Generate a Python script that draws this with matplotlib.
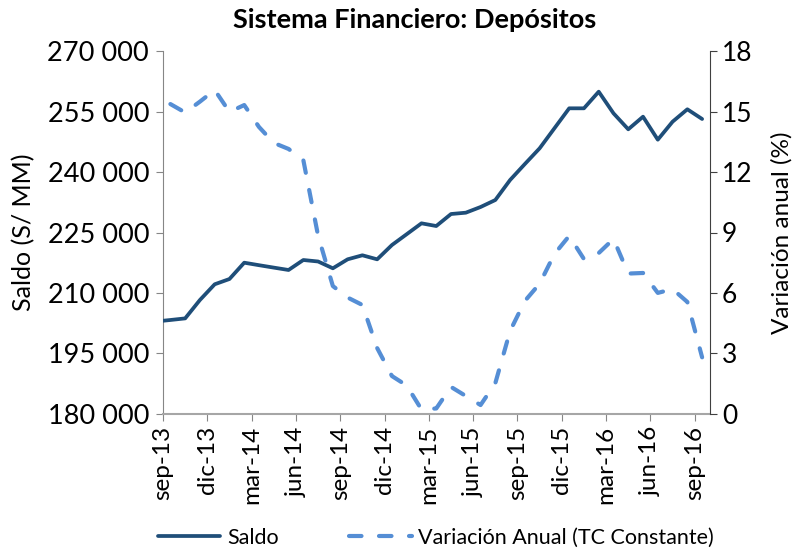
import numpy as np
import matplotlib
matplotlib.use("Agg")
import matplotlib.pyplot as plt
from matplotlib.ticker import FuncFormatter

plt.rcParams['font.family'] = ['Lato', 'DejaVu Sans']

months = ['ago-13', 'sep-13', 'oct-13', 'nov-13', 'dic-13',
          'ene-14', 'feb-14', 'mar-14', 'abr-14', 'may-14', 'jun-14',
          'jul-14', 'ago-14', 'sep-14', 'oct-14', 'nov-14', 'dic-14',
          'ene-15', 'feb-15', 'mar-15', 'abr-15', 'may-15', 'jun-15',
          'jul-15', 'ago-15', 'sep-15', 'oct-15', 'nov-15', 'dic-15',
          'ene-16', 'feb-16', 'mar-16', 'abr-16', 'may-16', 'jun-16',
          'jul-16', 'ago-16', 'sep-16']

saldo = [202900, 203270, 203670, 208240, 212140,
         213450, 217500, 216880, 216280, 215690, 218170,
         217800, 216110, 218340, 219340, 218340, 221890,
         224580, 227280, 226610, 229590, 229920, 231330,
         233070, 238040, 242010, 245910, 250880, 255840,
         255840, 259970, 254600, 250630, 253760, 248050,
         252520, 255600, 253190]

variacion = [np.nan, 15.38, 14.96, 15.5, 16.08,
             14.99, 15.33, 14.24, 13.45, 13.15, 12.6,
             8.84, 6.34, 5.77, 5.4, 3.26, 1.87,
             1.40, 0.21, 0.26, 1.33, 0.88, 0.43,
             1.52, 4.11, 5.6, 6.46, 7.93, 8.83,
             7.68, 7.98, 8.68, 6.96, 6.99, 6.0,
             6.19, 5.55, 2.8]

tick_labels = ['sep-13', 'dic-13', 'mar-14', 'jun-14', 'sep-14', 'dic-14',
               'mar-15', 'jun-15', 'sep-15', 'dic-15', 'mar-16', 'jun-16',
               'sep-16']

c_saldo = '#1F4E79'
c_var = '#558ED5'

fig = plt.figure(figsize=(7.99, 5.49), dpi=100)
ax = fig.add_axes([163/799, 1-413.7/549, (709.5-163)/799, (413.7-51.3)/549])
ax2 = ax.twinx()

# mid-month positions on a month axis
x = np.arange(len(months)) - 0.5

l1, = ax.plot(x, saldo, color=c_saldo, lw=2.7, solid_capstyle='round',
              solid_joinstyle='round', label='Saldo', zorder=3)
l2, = ax2.plot(x, variacion, color=c_var, lw=3.0, ls=(0, (3.0, 4.2)),
               dash_capstyle='round', label='Variación Anual (TC Constante)')

ax.set_xlim(0, 37)
ax.set_ylim(180000, 270000)
ax.set_yticks(np.arange(180000, 270001, 15000))
ax.yaxis.set_major_formatter(FuncFormatter(lambda v, p: f"{int(v):,}".replace(',', ' ')))
ax2.set_ylim(0, 18)
ax2.set_yticks(np.arange(0, 19, 3))

ax.set_xticks(np.arange(0, 37, 3))
ax.set_xticklabels(tick_labels, rotation=90, fontsize=17.5)
ax.tick_params(axis='y', labelsize=19.5, length=5, color='#868686', direction='out', pad=5)
ax.tick_params(axis='x', length=5, color='#868686', direction='out', pad=4)
ax2.tick_params(axis='y', labelsize=19, length=5, color='#404040', direction='out', pad=4)

ax.spines['top'].set_visible(False)
ax2.spines['top'].set_visible(False)
ax.spines['left'].set_color('#868686')
ax.spines['bottom'].set_color('#A6A6A6')
ax.spines['bottom'].set_linewidth(1.5)
ax2.spines['left'].set_visible(False)
ax2.spines['bottom'].set_visible(False)
ax2.spines['right'].set_color('#404040')
ax.spines['right'].set_visible(False)

ax.set_ylabel('Saldo (S/ MM)', fontsize=18, va='center')
ax.yaxis.set_label_coords(-(163-24)/546.5, 0.5)
ax2.set_ylabel('Variación anual (%)', fontsize=17.5, va='center', rotation=90)
ax2.yaxis.set_label_coords(1 + (782-709.5)/546.5, 0.5)

fig.text(415/799, 1-20/549, 'Sistema Financiero: Depósitos', ha='center', va='center',
         fontsize=19.5, fontweight='bold')

fig.legend([l1, l2], ['Saldo', 'Variación Anual (TC Constante)'], ncol=2,
           loc='center', bbox_to_anchor=(436/799, 1-538/549), frameon=False,
           fontsize=15.5, handlelength=2.9, columnspacing=3.3, handletextpad=0.3,
           borderpad=0, borderaxespad=0)

fig.savefig('out.png', dpi=100)
